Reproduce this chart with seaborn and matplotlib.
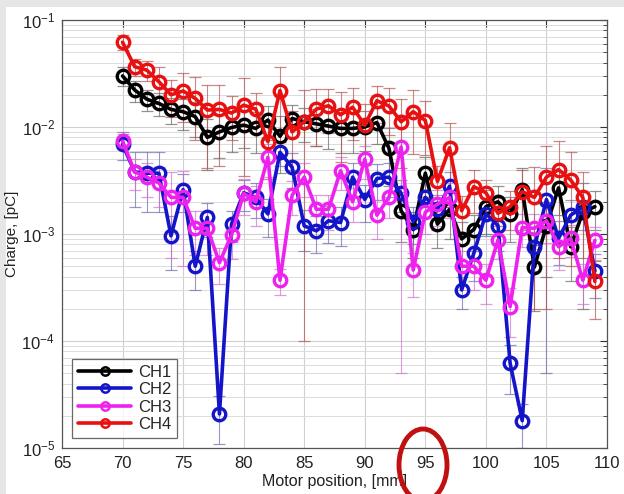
import numpy as np
import pandas as pd
import seaborn as sns
import matplotlib
matplotlib.use("Agg")
import matplotlib.pyplot as plt
from matplotlib.patches import Ellipse, Rectangle
from matplotlib.ticker import LogLocator, FixedLocator

# Motor positions (mm)
positions = list(range(70, 110))

# Charge per channel (pC)
ch1 = [0.030, 0.0222, 0.0182, 0.0166, 0.0146, 0.0139, 0.0125, 0.0080, 0.0090, 0.0099,
       0.0104, 0.0097, 0.0116, 0.0082, 0.0120, 0.0112, 0.0107, 0.0102, 0.0097, 0.0097,
       0.0100, 0.0110, 0.0063, 0.00165, 0.0011, 0.0037, 0.00124, 0.0017, 0.0009, 0.0011,
       0.0018, 0.0020, 0.00154, 0.0026, 0.00049, 0.0012, 0.0027, 0.00076, 0.0016, 0.0018]
ch2 = [0.0069, 0.0038, 0.0037, 0.0037, 0.00096, 0.0026, 0.0005, 0.00143, 0.0000208, 0.00124,
       0.00243, 0.0022, 0.00154, 0.0058, 0.0042, 0.00119, 0.00107, 0.00133, 0.00128, 0.0034,
       0.0021, 0.0033, 0.0034, 0.0024, 0.0013, 0.0022, 0.0017, 0.0028, 0.0003, 0.00066,
       0.00155, 0.0012, 0.000062, 0.000018, 0.00075, 0.0021, 0.00091, 0.0015, 0.00178, 0.00045]
ch3 = [0.0074, 0.0038, 0.0034, 0.0030, 0.0022, 0.0022, 0.00113, 0.00113, 0.00054, 0.00098,
       0.0024, 0.0020, 0.0052, 0.00037, 0.0023, 0.0034, 0.0017, 0.0017, 0.0039, 0.0020,
       0.0050, 0.0015, 0.0022, 0.0065, 0.00046, 0.0016, 0.0019, 0.0022, 0.0005, 0.0005,
       0.00037, 0.00088, 0.00021, 0.00115, 0.00113, 0.00133, 0.00076, 0.00091, 0.00037, 0.00087]
ch4 = [0.062, 0.0366, 0.034, 0.0265, 0.020, 0.0217, 0.0185, 0.0144, 0.0146, 0.0135,
       0.016, 0.0147, 0.0073, 0.0219, 0.009, 0.0112, 0.0147, 0.0158, 0.013, 0.0153,
       0.0104, 0.0176, 0.0157, 0.0112, 0.0139, 0.0115, 0.0031, 0.0064, 0.00165, 0.00277,
       0.00243, 0.00156, 0.0018, 0.00249, 0.0022, 0.0034, 0.0040, 0.0032, 0.0022, 0.00036]

# Standard deviation per point (pC)
ch1_err = [0.006, 0.005, 0.004, 0.004, 0.004, 0.0045, 0.0045, 0.004, 0.0039, 0.004,
           0.004, 0.004, 0.004, 0.0045, 0.004, 0.004, 0.004, 0.004, 0.004, 0.004,
           0.004, 0.004, 0.0035, 0.0008, 0.0005, 0.0015, 0.0005, 0.0008, 0.0004, 0.0004,
           0.0008, 0.0008, 0.0007, 0.0015, 0.0003, 0.0008, 0.0012, 0.0004, 0.0014, 0.0007]
ch2_err = [0.002, 0.002, 0.0021, 0.0021, 0.0005, 0.001, 0.0002, 0.0005, 0.00001, 0.0004,
           0.0008, 0.0008, 0.0006, 0.0015, 0.0015, 0.0005, 0.0004, 0.0005, 0.0005, 0.0012,
           0.0008, 0.0012, 0.0012, 0.0008, 0.0005, 0.0008, 0.0006, 0.001, 0.0001, 0.0003,
           0.0006, 0.0005, 0.00003, 0.000008, 0.0003, 0.00205, 0.0004, 0.0006, 0.0007, 0.0002]
ch3_err = [0.0012, 0.0012, 0.0012, 0.0012, 0.0016, 0.0017, 0.0005, 0.0005, 0.0002, 0.0004,
           0.0009, 0.0008, 0.0018, 0.0001, 0.0008, 0.0012, 0.0006, 0.0006, 0.0013, 0.0007,
           0.0017, 0.0006, 0.0008, 0.00645, 0.0002, 0.0006, 0.0007, 0.0008, 0.0002, 0.0002,
           0.00015, 0.0003, 0.0001, 0.0004, 0.0004, 0.0005, 0.0003, 0.0003, 0.00015, 0.0003]
ch4_err = [0.010, 0.0066, 0.007, 0.010, 0.0075, 0.0105, 0.011, 0.0103, 0.0103, 0.006,
           0.0125, 0.006, 0.004, 0.0147, 0.005, 0.0111, 0.008, 0.007, 0.0083, 0.0077,
           0.006, 0.0066, 0.0073, 0.0071, 0.0083, 0.006, 0.0012, 0.0046, 0.0006, 0.0012,
           0.0008, 0.0006, 0.0007, 0.0015, 0.002, 0.0032, 0.0034, 0.0027, 0.0016, 0.0002]

channels = ["CH1", "CH2", "CH3", "CH4"]
values = [ch1, ch2, ch3, ch4]
errors = [ch1_err, ch2_err, ch3_err, ch4_err]
line_colors = ["#000000", "#1414c8", "#ee22ee", "#e81010"]
err_colors = ["#666666", "#6a6ab0", "#d070d0", "#b85050"]

df = pd.DataFrame({
    "position": np.tile(positions, len(channels)),
    "charge": np.concatenate(values),
    "err": np.concatenate(errors),
    "channel": np.repeat(channels, len(positions)),
})

sns.set_theme(style="white")
plt.rcParams["font.family"] = ["Liberation Sans", "DejaVu Sans"]

W, H = 624, 494
fig = plt.figure(figsize=(W / 100, H / 100), dpi=100, facecolor="#e6e6e6")
fig.patches.append(Rectangle((6 / W, 0), 1, 1 - 7 / H, transform=fig.transFigure,
                             facecolor="white", edgecolor="none", zorder=-10))
ax = fig.add_axes([62 / W, 1 - 448 / H, (607 - 62) / W, (448 - 20) / H])
ax.set_facecolor("white")

for ch, ec in zip(channels, err_colors):
    sub = df[df["channel"] == ch]
    ax.errorbar(sub["position"], sub["charge"], yerr=sub["err"], fmt="none",
                ecolor=ec, elinewidth=0.8, capsize=4, capthick=0.9, alpha=0.7, zorder=2)

for ch, lc in zip(channels, line_colors):
    sub = df[df["channel"] == ch]
    sns.lineplot(data=sub, x="position", y="charge", ax=ax, color=lc, label=ch,
                 linewidth=2.6, marker="o", markersize=9, markerfacecolor="none",
                 markeredgecolor=lc, markeredgewidth=2.4, zorder=3)

ax.set_yscale("log")
ax.set_xlim(65, 110)
ax.set_ylim(1e-5, 1e-1)
ax.xaxis.set_major_locator(FixedLocator(np.arange(65, 111, 5)))
ax.yaxis.set_major_locator(LogLocator(base=10, numticks=10))
ax.yaxis.set_minor_locator(LogLocator(base=10, subs=np.arange(2, 10), numticks=20))
ax.grid(True, which="major", axis="both", color="#d0d0d0", linewidth=0.8)
ax.grid(True, which="minor", axis="y", color="#dcdcdc", linewidth=0.7)
ax.set_axisbelow(True)
ax.tick_params(which="both", direction="in", top=True, right=True, colors="#333333",
               labelcolor="#222222", labelsize=12)
ax.tick_params(which="major", length=5, width=0.8)
ax.tick_params(which="minor", length=3, width=0.6)
ax.tick_params(axis="x", which="major", pad=6)
ax.tick_params(axis="y", which="major", pad=5)
for s in ax.spines.values():
    s.set_color("#555555")
    s.set_linewidth(0.9)

ax.set_xlabel("Motor position, [mm]", fontsize=11.5, color="#222222", labelpad=2)
ax.set_ylabel("Charge, [pC]", fontsize=11, color="#222222", labelpad=2)

leg = ax.legend(loc="lower left", frameon=True, fancybox=False, edgecolor="#444444",
                fontsize=12, handlelength=3.2, borderpad=0.35, labelspacing=0.15,
                handletextpad=0.4, borderaxespad=0.6)
leg.get_frame().set_linewidth(0.9)
for h in leg.legend_handles:
    h.set_markersize(6)
    h.set_markeredgewidth(1.8)

# highlight around the 95 mm tick label
fig.patches.append(Ellipse((423 / W, 1 - 465 / H), 48 / W, 72 / H, transform=fig.transFigure,
                           facecolor="none", edgecolor="#c01010", linewidth=3.5, zorder=20))

fig.savefig("out.png", dpi=100, facecolor=fig.get_facecolor())
